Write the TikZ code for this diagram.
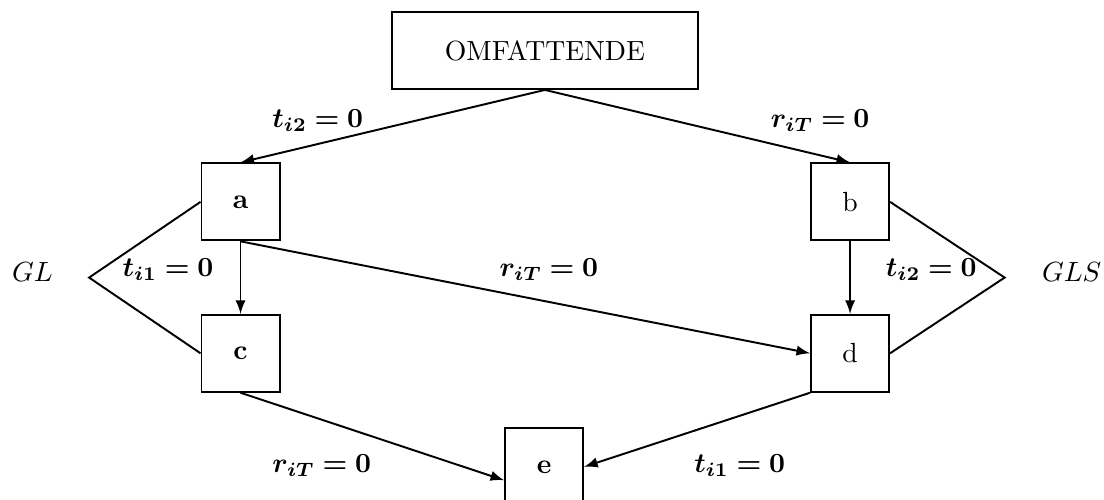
\documentclass[tikz,border=0pt]{standalone}
\usepackage{amsmath}
\usepackage{amssymb}
\usepackage{bm}
\usepackage{tikz}

\begin{document}
\begin{tikzpicture}[>=latex, line width=0.7pt,
		box/.style={draw, minimum width=0.99cm, minimum height=0.976cm, inner sep=0pt},
		topbox/.style={draw, minimum width=3.88cm, minimum height=0.976cm, inner sep=0pt}]
			% Fix the picture size
			\useasboundingbox (0,0) rectangle (14,6.34);
			
			% Draw the boxes
			\node[topbox] (omf) at (6.91,5.70) {OMFATTENDE};
			\node[box] (a) at (3.05,3.78) {\textbf{a}};
			\node[box] (b) at (10.78,3.78) {b};
			\node[box] (c) at (3.05,1.86) {\textbf{c}};
			\node[box] (d) at (10.78,1.86) {d};
			\node[box] (e) at (6.90,0.42) {\textbf{e}};
			
			% Apex points of the two wedges
			\coordinate (gl) at (1.13,2.82);
			\coordinate (gls) at (12.74,2.82);
			
			% Draw the arrows
			\draw[->] (omf.south) -- (a.north);
			\draw[->] (omf.south) -- (b.north);
			\draw[->] (a.south) -- (c.north);
			\draw[->] (a.south) -- (d.west);
			\draw[->] (b.south) -- (d.north);
			\draw[->] (c.south) -- ([yshift=-0.17cm]e.west);
			\draw[->] (d.south west) -- (e.east);
			
			% Draw the wedges
			\draw (a.west) -- (gl) -- (c.west);
			\draw (b.east) -- (gls) -- (d.east);
			
			% Label arrows
			\node (l1) at (4.03,4.81) {$\bm{t_{i2}=0}$};
			\node (l2) at (10.40,4.81) {$\bm{r_{iT}=0}$};
			\node (l3) at (2.13,2.92) {$\bm{t_{i1}=0}$};
			\node (l4) at (6.96,2.92) {$\bm{r_{iT}=0}$};
			\node (l5) at (11.81,2.92) {$\bm{t_{i2}=0}$};
			\node (l6) at (4.08,0.44) {$\bm{r_{iT}=0}$};
			\node (l7) at (9.38,0.44) {$\bm{t_{i1}=0}$};
			
			% Label wedges
			\node (tgl) at (0.41,2.89) {$GL$};
			\node (tgls) at (13.59,2.89) {$GLS$};
			
		\end{tikzpicture}
\end{document}
